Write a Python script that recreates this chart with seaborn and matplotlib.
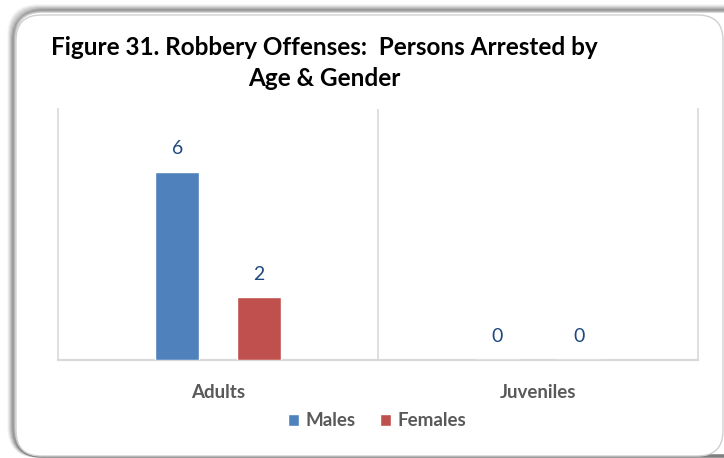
import pandas as pd
import matplotlib.pyplot as plt
import seaborn as sns
from matplotlib.patches import FancyBboxPatch

# Chart data
age_groups = ['Adults', 'Juveniles']
genders = ['Males', 'Females']
males = [6, 0]
females = [2, 0]

df = pd.DataFrame({
    'age': age_groups * 2,
    'gender': ['Males'] * 2 + ['Females'] * 2,
    'count': males + females,
})

sns.set_theme(style="white")
plt.rcParams['font.family'] = ['Lato', 'DejaVu Sans']

fig = plt.figure(figsize=(7.24, 4.58), dpi=100)

# Rounded frame with soft shadow
W, H = 724, 458
for i, a in enumerate([0.04, 0.06, 0.08, 0.11, 0.15, 0.2]):
    off = 6 - i
    sh = FancyBboxPatch(((16 - off - 1) / W, 2 / H), (W + 20) / W, (H - 14 + off) / H,
                        boxstyle="round,pad=0,rounding_size=0.04",
                        transform=fig.transFigure, facecolor='none',
                        edgecolor=(0, 0, 0, a), linewidth=2.5, zorder=0,
                        mutation_aspect=W / H)
    fig.patches.append(sh)
frame = FancyBboxPatch((16 / W, 2 / H), (W - 16 - 1) / W, (H - 13 - 4) / H,
                       boxstyle="round,pad=0,rounding_size=0.035",
                       transform=fig.transFigure, facecolor='white',
                       edgecolor='#D0D0D0', linewidth=1.0, zorder=1,
                       mutation_aspect=W / H)
fig.patches.append(frame)

ax = fig.add_axes([58 / W, 1 - 360 / H, 640 / W, 251 / H])
ax.set_facecolor('none')
ax.set_zorder(2)

sns.barplot(data=df, x='age', y='count', hue='gender', hue_order=genders,
            palette=['#4F81BD', '#C0504D'], width=0.51, gap=0.46,
            saturation=1, ax=ax, zorder=3)

for cont in ax.containers:
    ax.bar_label(cont, padding=10.5, color='#1F497D', fontsize=14)

ax.set_xlim(-0.5, 1.5)
ax.set_ylim(0, 8)
ax.set_yticks([])
ax.set_xlabel('')
ax.set_ylabel('')
ax.tick_params(axis='x', length=0, pad=17, labelsize=13.5, labelcolor='#595959')
for lbl in ax.get_xticklabels():
    lbl.set_fontweight('bold')

# category separators
ax.axvline(0.5, color='#D9D9D9', linewidth=1.2, zorder=1)
for side in ['left', 'right', 'bottom']:
    ax.spines[side].set_color('#D9D9D9')
    ax.spines[side].set_linewidth(1.2)
ax.spines['bottom'].set_linewidth(1.6)
ax.spines['top'].set_visible(False)

leg = ax.legend(loc='center', bbox_to_anchor=(377 / W, 1 - 421 / H),
                bbox_transform=fig.transFigure, ncol=2, frameon=False,
                handlelength=0.6, handleheight=0.6, handletextpad=0.35,
                columnspacing=1.3, fontsize=13.5)
for t in leg.get_texts():
    t.set_color('#595959')
    t.set_fontweight('bold')

fig.text(324 / W, 1 - 63 / H,
         'Figure 31. Robbery Offenses:  Persons Arrested by\nAge & Gender',
         ha='center', va='center', fontsize=17.5, fontweight='bold',
         color='black', linespacing=1.45, zorder=5)

fig.savefig('out.png', dpi=100)
